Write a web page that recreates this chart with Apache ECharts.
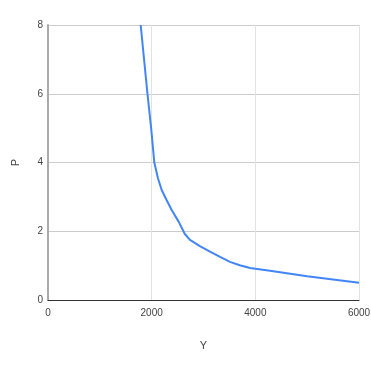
<!DOCTYPE html>
<html><head><meta charset="utf-8">
<script src="https://cdn.jsdelivr.net/npm/echarts@6/dist/echarts.min.js"></script>
<style>html,body{margin:0;padding:0;background:#fff}#c{width:371px;height:371px}</style>
</head><body><div id="c"></div>
<script>
var yValues = [1788, 1919, 1990, 2051, 2120, 2193, 2290, 2386, 2520, 2640, 2739, 2930, 3125, 3310, 3511, 3700, 3897, 4283, 5000, 6000];
var pValues = [8, 6, 5, 4, 3.55, 3.2, 2.9, 2.62, 2.28, 1.92, 1.75, 1.57, 1.41, 1.26, 1.11, 1.01, 0.93, 0.85, 0.69, 0.5];
var xTicks = [0, 2000, 4000, 6000];
var yTicks = [0, 2, 4, 6, 8];
var data = yValues.map(function (v, i) { return [v, pValues[i]]; });
var font = '"Liberation Sans Narrow", "Liberation Sans", sans-serif';
var chart = echarts.init(document.getElementById('c'), null, {renderer: 'canvas'});
chart.setOption({
  animation: false,
  grid: {left: 48, right: 12, top: 25, bottom: 71, containLabel: false, outerBoundsMode: 'none'},
  xAxis: {
    type: 'value', min: xTicks[0], max: xTicks[xTicks.length - 1], interval: 2000,
    name: 'Y', nameLocation: 'middle', nameGap: 40,
    nameTextStyle: {fontFamily: font, fontSize: 11, color: '#444'},
    axisLine: {show: true, onZero: false, lineStyle: {color: '#333', width: 1}},
    axisTick: {show: false},
    axisLabel: {fontFamily: font, fontSize: 10, color: '#444', margin: 8, formatter: function (v) { return String(v); }},
    splitLine: {show: true, lineStyle: {color: '#e2e2e2', width: 1}}
  },
  yAxis: {
    type: 'value', min: yTicks[0], max: yTicks[yTicks.length - 1], interval: 2,
    name: 'P', nameLocation: 'middle', nameGap: 27,
    nameTextStyle: {fontFamily: font, fontSize: 11, color: '#444'},
    axisLine: {show: true, lineStyle: {color: '#aaa', width: 2}},
    axisTick: {show: false},
    axisLabel: {fontFamily: font, fontSize: 10, color: '#444', margin: 5, formatter: function (v) { return String(v); }},
    splitLine: {show: true, lineStyle: {color: '#cccccc', width: 1}}
  },
  series: [{
    type: 'line', data: data, showSymbol: false, smooth: false,
    lineStyle: {color: '#4285f4', width: 2}, clip: true
  }]
});
</script></body></html>
